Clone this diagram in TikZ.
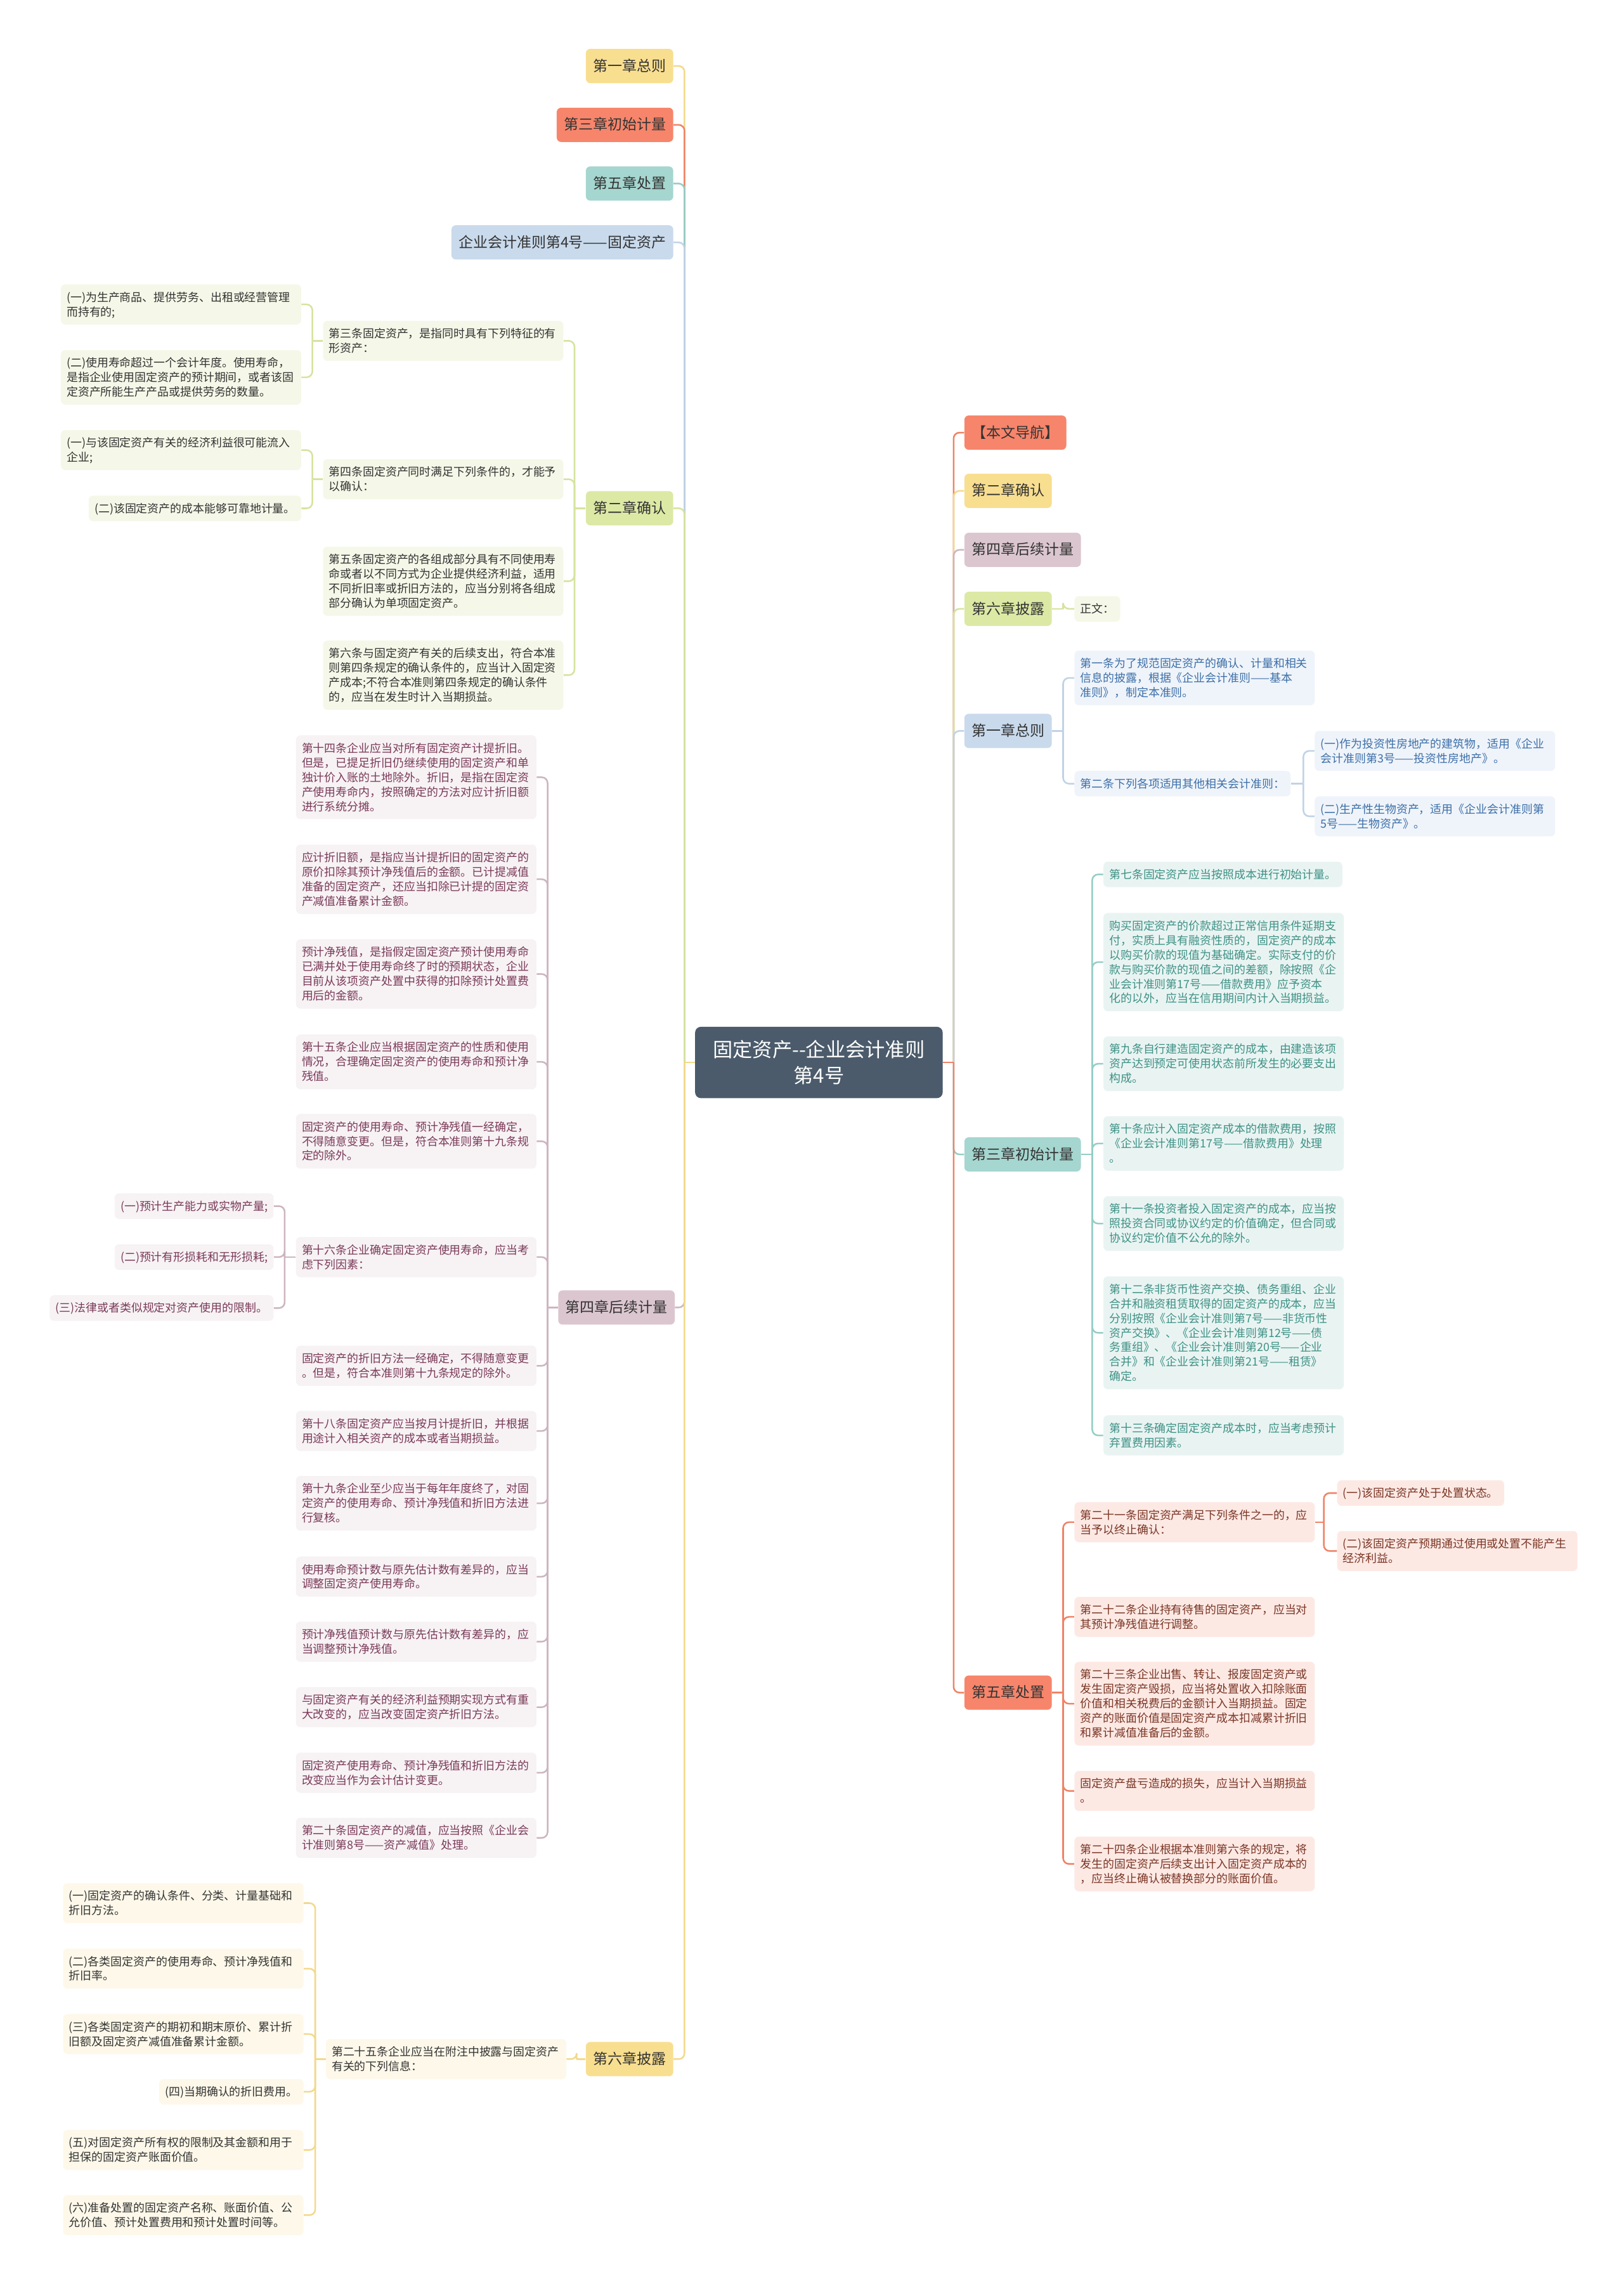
\documentclass[tikz,border=0pt]{standalone}
\usepackage{fontspec}
\setmainfont{Noto Sans CJK SC}
\usetikzlibrary{backgrounds}
\definecolor{rootc}{HTML}{4B5B6B}
\definecolor{ylw}{HTML}{F8DE8F}
\definecolor{ylwL}{HTML}{F3D98B}
\definecolor{crl}{HTML}{F6856B}
\definecolor{crlL}{HTML}{EF8367}
\definecolor{tea}{HTML}{A5D6D0}
\definecolor{teaL}{HTML}{95CEC6}
\definecolor{blu}{HTML}{C9DAEC}
\definecolor{bluL}{HTML}{C0D3E6}
\definecolor{grn}{HTML}{DCE9A5}
\definecolor{grnL}{HTML}{D6E39F}
\definecolor{mau}{HTML}{DBC6CF}
\definecolor{mauL}{HTML}{CDB5C0}
\definecolor{grnF}{HTML}{F5F8E8}
\definecolor{mauF}{HTML}{F7F2F4}
\definecolor{ylwF}{HTML}{FDF8E9}
\definecolor{bluF}{HTML}{EFF4FA}
\definecolor{teaF}{HTML}{E9F4F2}
\definecolor{crlF}{HTML}{FDE9E4}
\definecolor{txt}{HTML}{333333}
\definecolor{mauT}{HTML}{7A3A58}
\definecolor{bluT}{HTML}{3D6FA8}
\definecolor{teaT}{HTML}{3E9186}
\definecolor{crlT}{HTML}{7A3626}
\newcommand\lstrut{\rule[-2.1pt]{0pt}{10pt}}
\newcommand\lk[4]{\draw[cn,#1] (#2.west) -- (#2.west -| #3); \draw[cn,#1] (#2.west -| #3) |- (#4.east);}
\newcommand\rk[4]{\draw[cn,#1] (#2.east) -- (#2.east -| #3); \draw[cn,#1] (#2.east -| #3) |- (#4.west);}
\tikzset{
  cn/.style={line width=1.1pt, rounded corners=4pt},
  rootn/.style={fill=rootc, text=white, rounded corners=4pt, minimum width=170pt, minimum height=49pt, align=center, font=\fontsize{13.6}{18}\selectfont},
  br/.style={rounded corners=3pt, inner xsep=5pt, inner ysep=0pt, minimum height=23.5pt, font=\fontsize{10}{12}\selectfont, text height=7.8pt, text depth=0.8pt, text=txt},
  lf/.style={rounded corners=3pt, inner xsep=4pt, inner ysep=3.75pt, align=left, font=\fontsize{7.8}{10}\selectfont, execute at begin node=\lstrut, execute at end node=\lstrut},
  W/.style={text width=157pt},
  g2/.style={lf, fill=grnF, text=txt},
  g4/.style={lf, fill=mauF, text=mauT},
  g6/.style={lf, fill=ylwF, text=txt},
  g1/.style={lf, fill=bluF, text=bluT},
  g3/.style={lf, fill=teaF, text=teaT},
  g5/.style={lf, fill=crlF, text=crlT}
}
\begin{document}
\begin{tikzpicture}[x=1pt,y=-1pt]
\useasboundingbox (0,0) rectangle (1115,1568);
% root
\node[rootn] (root) at (562.3,729.4) {固定资产-{}-企业会计准则\\第4号};
% left branches
\node[br, fill=ylw, anchor=east] (L1) at (462.5,45.3) {第一章总则};
\node[br, fill=crl, anchor=east] (L3) at (462.5,85.7) {第三章初始计量};
\node[br, fill=tea, anchor=east] (L5) at (462.5,126) {第五章处置};
\node[br, fill=blu, anchor=east] (L4h) at (462.5,166.4) {企业会计准则第4号——固定资产};
\node[br, fill=grn, anchor=east] (L2) at (462.5,348.9) {第二章确认};
\node[br, fill=mau, anchor=east] (L4) at (463.5,897.6) {第四章后续计量};
\node[br, fill=ylw, anchor=east] (L6) at (462.5,1413.6) {第六章披露};
% right branches
\node[br, fill=crl, anchor=west] (R0) at (662,297) {【本文导航】};
\node[br, fill=ylw, anchor=west] (R2) at (662,337) {第二章确认};
\node[br, fill=mau, anchor=west] (R4) at (662,377.5) {第四章后续计量};
\node[br, fill=grn, anchor=west] (R6) at (662,418) {第六章披露};
\node[br, fill=blu, anchor=west] (R1) at (662,501.8) {第一章总则};
\node[br, fill=tea, anchor=west] (R3) at (662,792.5) {第三章初始计量};
\node[br, fill=crl, anchor=west] (R5) at (662,1162) {第五章处置};
% chapter 2 (left)
\node[g2,W,anchor=east] (a1) at (387,234) {第三条固定资产，是指同时具有下列特征的有\\形资产：};
\node[g2,W,anchor=east] (a2) at (387,329) {第四条固定资产同时满足下列条件的，才能予\\以确认：};
\node[g2,W,anchor=east] (a3) at (387,399) {第五条固定资产的各组成部分具有不同使用寿\\命或者以不同方式为企业提供经济利益，适用\\不同折旧率或折旧方法的，应当分别将各组成\\部分确认为单项固定资产。};
\node[g2,W,anchor=east] (a4) at (387,463.5) {第六条与固定资产有关的后续支出，符合本准\\则第四条规定的确认条件的，应当计入固定资\\产成本;不符合本准则第四条规定的确认条件\\的，应当在发生时计入当期损益。};
\node[g2,W,anchor=east] (a11) at (207,209) {(一)为生产商品、提供劳务、出租或经营管理\\而持有的;};
\node[g2,W,anchor=east] (a12) at (207,259) {(二)使用寿命超过一个会计年度。使用寿命，\\是指企业使用固定资产的预计期间，或者该固\\定资产所能生产产品或提供劳务的数量。};
\node[g2,W,anchor=east] (a21) at (207,309) {(一)与该固定资产有关的经济利益很可能流入\\企业;};
\node[g2,anchor=east] (a22) at (207,349) {(二)该固定资产的成本能够可靠地计量。};
% chapter 4 (left)
\node[g4,W,anchor=east] (n41) at (368.5,533.6) {第十四条企业应当对所有固定资产计提折旧。\\但是，已提足折旧仍继续使用的固定资产和单\\独计价入账的土地除外。折旧，是指在固定资\\产使用寿命内，按照确定的方法对应计折旧额\\进行系统分摊。};
\node[g4,W,anchor=east] (n42) at (368.5,603.6) {应计折旧额，是指应当计提折旧的固定资产的\\原价扣除其预计净残值后的金额。已计提减值\\准备的固定资产，还应当扣除已计提的固定资\\产减值准备累计金额。};
\node[g4,W,anchor=east] (n43) at (368.5,668.7) {预计净残值，是指假定固定资产预计使用寿命\\已满并处于使用寿命终了时的预期状态，企业\\目前从该项资产处置中获得的扣除预计处置费\\用后的金额。};
\node[g4,W,anchor=east] (n44) at (368.5,729) {第十五条企业应当根据固定资产的性质和使用\\情况，合理确定固定资产的使用寿命和预计净\\残值。};
\node[g4,W,anchor=east] (n45) at (368.5,783.5) {固定资产的使用寿命、预计净残值一经确定，\\不得随意变更。但是，符合本准则第十九条规\\定的除外。};
\node[g4,W,anchor=east] (n46) at (368.5,863) {第十六条企业确定固定资产使用寿命，应当考\\虑下列因素：};
\node[g4,anchor=east] (n461) at (188,828) {(一)预计生产能力或实物产量;};
\node[g4,anchor=east] (n462) at (188,863) {(二)预计有形损耗和无形损耗;};
\node[g4,anchor=east] (n463) at (188,898) {(三)法律或者类似规定对资产使用的限制。};
\node[g4,W,anchor=east] (n47) at (368.5,937.6) {固定资产的折旧方法一经确定，不得随意变更\\。但是，符合本准则第十九条规定的除外。};
\node[g4,W,anchor=east] (n48) at (368.5,982.4) {第十八条固定资产应当按月计提折旧，并根据\\用途计入相关资产的成本或者当期损益。};
\node[g4,W,anchor=east] (n49) at (368.5,1032) {第十九条企业至少应当于每年年度终了，对固\\定资产的使用寿命、预计净残值和折旧方法进\\行复核。};
\node[g4,W,anchor=east] (n410) at (368.5,1082.4) {使用寿命预计数与原先估计数有差异的，应当\\调整固定资产使用寿命。};
\node[g4,W,anchor=east] (n411) at (368.5,1127) {预计净残值预计数与原先估计数有差异的，应\\当调整预计净残值。};
\node[g4,W,anchor=east] (n412) at (368.5,1172) {与固定资产有关的经济利益预期实现方式有重\\大改变的，应当改变固定资产折旧方法。};
\node[g4,W,anchor=east] (n413) at (368.5,1217) {固定资产使用寿命、预计净残值和折旧方法的\\改变应当作为会计估计变更。};
\node[g4,W,anchor=east] (n414) at (368.5,1261.7) {第二十条固定资产的减值，应当按照《企业会\\计准则第8号——资产减值》处理。};
% chapter 6 (left)
\node[g6,W,anchor=east] (c0) at (389,1413.6) {第二十五条企业应当在附注中披露与固定资产\\有关的下列信息：};
\node[g6,W,anchor=east] (c1) at (208.6,1306.5) {(一)固定资产的确认条件、分类、计量基础和\\折旧方法。};
\node[g6,W,anchor=east] (c2) at (208.6,1351.5) {(二)各类固定资产的使用寿命、预计净残值和\\折旧率。};
\node[g6,W,anchor=east] (c3) at (208.6,1396.4) {(三)各类固定资产的期初和期末原价、累计折\\旧额及固定资产减值准备累计金额。};
\node[g6,anchor=east] (c4) at (208.6,1436) {(四)当期确认的折旧费用。};
\node[g6,W,anchor=east] (c5) at (208.6,1476) {(五)对固定资产所有权的限制及其金额和用于\\担保的固定资产账面价值。};
\node[g6,W,anchor=east] (c6) at (208.6,1520.7) {(六)准备处置的固定资产名称、账面价值、公\\允价值、预计处置费用和预计处置时间等。};
% right: chapter 6 text
\node[g2,anchor=west] (d0) at (737.6,418) {正文：};
% right: chapter 1
\node[g1,W,anchor=west] (e1) at (737.6,465.4) {第一条为了规范固定资产的确认、计量和相关\\信息的披露，根据《企业会计准则——基本\\准则》，制定本准则。};
\node[g1,anchor=west] (e2) at (737.6,538) {第二条下列各项适用其他相关会计准则：};
\node[g1,W,anchor=west] (e21) at (902.6,515.5) {(一)作为投资性房地产的建筑物，适用《企业\\会计准则第3号——投资性房地产》。};
\node[g1,W,anchor=west] (e22) at (902.6,560.4) {(二)生产性生物资产，适用《企业会计准则第\\5号——生物资产》。};
% right: chapter 3
\node[g3,anchor=west] (f1) at (757.5,600.3) {第七条固定资产应当按照成本进行初始计量。};
\node[g3,W,anchor=west] (f2) at (757.5,660.5) {购买固定资产的价款超过正常信用条件延期支\\付，实质上具有融资性质的，固定资产的成本\\以购买价款的现值为基础确定。实际支付的价\\款与购买价款的现值之间的差额，除按照《企\\业会计准则第17号——借款费用》应予资本\\化的以外，应当在信用期间内计入当期损益。};
\node[g3,W,anchor=west] (f3) at (757.5,730.3) {第九条自行建造固定资产的成本，由建造该项\\资产达到预定可使用状态前所发生的必要支出\\构成。};
\node[g3,W,anchor=west] (f4) at (757.5,785) {第十条应计入固定资产成本的借款费用，按照\\《企业会计准则第17号——借款费用》处理\\。};
\node[g3,W,anchor=west] (f5) at (757.5,840) {第十一条投资者投入固定资产的成本，应当按\\照投资合同或协议约定的价值确定，但合同或\\协议约定价值不公允的除外。};
\node[g3,W,anchor=west] (f6) at (757.5,915) {第十二条非货币性资产交换、债务重组、企业\\合并和融资租赁取得的固定资产的成本，应当\\分别按照《企业会计准则第7号——非货币性\\资产交换》、《企业会计准则第12号——债\\务重组》、《企业会计准则第20号——企业\\合并》和《企业会计准则第21号——租赁》\\确定。};
\node[g3,W,anchor=west] (f7) at (757.5,985.4) {第十三条确定固定资产成本时，应当考虑预计\\弃置费用因素。};
% right: chapter 5
\node[g5,W,anchor=west] (h1) at (737.6,1045) {第二十一条固定资产满足下列条件之一的，应\\当予以终止确认：};
\node[g5,anchor=west] (h11) at (918,1025) {(一)该固定资产处于处置状态。};
\node[g5,W,anchor=west] (h12) at (918,1064.8) {(二)该固定资产预期通过使用或处置不能产生\\经济利益。};
\node[g5,W,anchor=west] (h2) at (737.6,1110) {第二十二条企业持有待售的固定资产，应当对\\其预计净残值进行调整。};
\node[g5,W,anchor=west] (h3) at (737.6,1169.6) {第二十三条企业出售、转让、报废固定资产或\\发生固定资产毁损，应当将处置收入扣除账面\\价值和相关税费后的金额计入当期损益。固定\\资产的账面价值是固定资产成本扣减累计折旧\\和累计减值准备后的金额。};
\node[g5,W,anchor=west] (h4) at (737.6,1229.5) {固定资产盘亏造成的损失，应当计入当期损益\\。};
\node[g5,W,anchor=west] (h5) at (737.6,1279.6) {第二十四条企业根据本准则第六条的规定，将\\发生的固定资产后续支出计入固定资产成本的\\，应当终止确认被替换部分的账面价值。};
% bus coordinates
\coordinate (busL) at (470,0);
\coordinate (busR) at (654.8,0);
\coordinate (busA) at (394.5,0);
\coordinate (busAa) at (214.5,0);
\coordinate (busB) at (376,0);
\coordinate (busBf) at (195.5,0);
\coordinate (busC) at (396,0);
\coordinate (busCa) at (216.5,0);
\coordinate (busE) at (730,0);
\coordinate (busEb) at (895,0);
\coordinate (busF) at (750,0);
\coordinate (busHa) at (909,0);
\begin{scope}[on background layer]
\fill[white] (0,0) rectangle (1115,1568);
% center to left branches
\lk{ylwL}{root}{busL}{L1}
\lk{crlL}{root}{busL}{L3}
\lk{teaL}{root}{busL}{L5}
\lk{bluL}{root}{busL}{L4h}
\lk{grnL}{root}{busL}{L2}
\lk{mauL}{root}{busL}{L4}
\lk{ylwL}{root}{busL}{L6}
% center to right branches
\rk{crlL}{root}{busR}{R0}
\rk{ylwL}{root}{busR}{R2}
\rk{mauL}{root}{busR}{R4}
\rk{grnL}{root}{busR}{R6}
\rk{bluL}{root}{busR}{R1}
\rk{teaL}{root}{busR}{R3}
\rk{crlL}{root}{busR}{R5}
% chapter 2 left
\lk{grnL}{L2}{busA}{a1}
\lk{grnL}{L2}{busA}{a2}
\lk{grnL}{L2}{busA}{a3}
\lk{grnL}{L2}{busA}{a4}
\lk{grnL}{a1}{busAa}{a11}
\lk{grnL}{a1}{busAa}{a12}
\lk{grnL}{a2}{busAa}{a21}
\lk{grnL}{a2}{busAa}{a22}
% chapter 4 left
\lk{mauL}{L4}{busB}{n41}
\lk{mauL}{L4}{busB}{n42}
\lk{mauL}{L4}{busB}{n43}
\lk{mauL}{L4}{busB}{n44}
\lk{mauL}{L4}{busB}{n45}
\lk{mauL}{L4}{busB}{n46}
\lk{mauL}{L4}{busB}{n47}
\lk{mauL}{L4}{busB}{n48}
\lk{mauL}{L4}{busB}{n49}
\lk{mauL}{L4}{busB}{n410}
\lk{mauL}{L4}{busB}{n411}
\lk{mauL}{L4}{busB}{n412}
\lk{mauL}{L4}{busB}{n413}
\lk{mauL}{L4}{busB}{n414}
\lk{mauL}{n46}{busBf}{n461}
\lk{mauL}{n46}{busBf}{n462}
\lk{mauL}{n46}{busBf}{n463}
% chapter 6 left
\lk{ylwL}{L6}{busC}{c0}
\lk{ylwL}{c0}{busCa}{c1}
\lk{ylwL}{c0}{busCa}{c2}
\lk{ylwL}{c0}{busCa}{c3}
\lk{ylwL}{c0}{busCa}{c4}
\lk{ylwL}{c0}{busCa}{c5}
\lk{ylwL}{c0}{busCa}{c6}
% right side
\rk{grnL}{R6}{busE}{d0}
\rk{bluL}{R1}{busE}{e1}
\rk{bluL}{R1}{busE}{e2}
\rk{bluL}{e2}{busEb}{e21}
\rk{bluL}{e2}{busEb}{e22}
\rk{teaL}{R3}{busF}{f1}
\rk{teaL}{R3}{busF}{f2}
\rk{teaL}{R3}{busF}{f3}
\rk{teaL}{R3}{busF}{f4}
\rk{teaL}{R3}{busF}{f5}
\rk{teaL}{R3}{busF}{f6}
\rk{teaL}{R3}{busF}{f7}
\rk{crlL}{R5}{busE}{h1}
\rk{crlL}{R5}{busE}{h2}
\rk{crlL}{R5}{busE}{h3}
\rk{crlL}{R5}{busE}{h4}
\rk{crlL}{R5}{busE}{h5}
\rk{crlL}{h1}{busHa}{h11}
\rk{crlL}{h1}{busHa}{h12}
\end{scope}
\end{tikzpicture}
\end{document}
